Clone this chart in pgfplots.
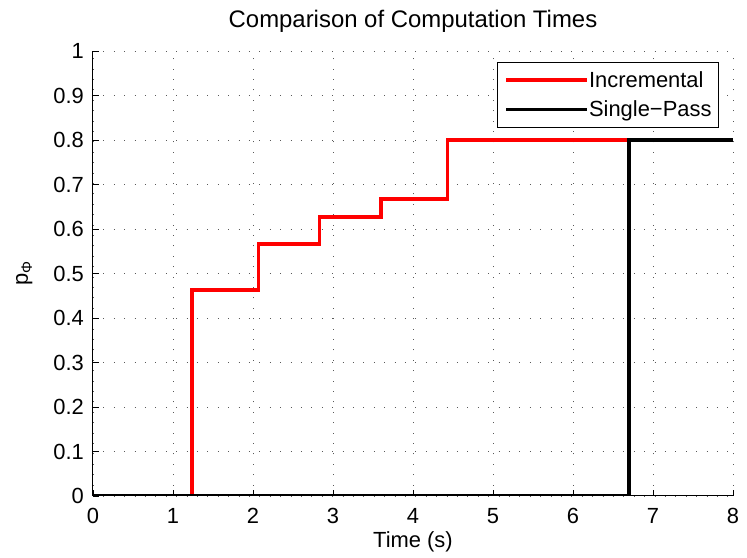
\documentclass[border=0pt]{standalone}
\usepackage{fontspec}
\setmainfont{Liberation Sans}
\usepackage{pgfplots}
\pgfplotsset{compat=1.18}
\begin{document}
\begin{tikzpicture}
\begin{axis}[
  scale only axis,
  width=640bp, height=445bp,
  xmin=0, xmax=8, ymin=0, ymax=1,
  axis x line*=bottom, axis y line*=left,
  axis line style={line width=1bp, black},
  tick align=inside,
  major tick length=6bp,
  tick style={line width=0.8bp, black},
  xtick={0,1,2,3,4,5,6,7,8},
  ytick={0,0.1,0.2,0.3,0.4,0.5,0.6,0.7,0.8,0.9,1},
  yticklabels={0,0.1,0.2,0.3,0.4,0.5,0.6,0.7,0.8,0.9,1},
  /pgf/number format/assume math mode=true,
  ticklabel style={font=\fontsize{22}{26}\selectfont},
  xticklabel style={anchor=base, inner sep=0pt, yshift=-28bp},
  yticklabel style={anchor=east, inner sep=0pt, xshift=-9bp},
  grid=major,
  major grid style={line width=0.7bp, black!65, dash pattern=on 1bp off 9.4bp},
  title={Comparison of Computation Times},
  title style={font=\fontsize{24}{28}\selectfont, at={(rel axis cs:0.5,1)}, anchor=base, inner sep=0pt, yshift=18bp},
  xlabel={Time (s)},
  xlabel style={font=\fontsize{22}{26}\selectfont, at={(rel axis cs:0.5,0)}, anchor=base, inner sep=0pt, yshift=-52bp},
  ylabel={p\raisebox{-4bp}{\fontsize{15}{18}\selectfont Φ}},
  ylabel style={font=\fontsize{22}{26}\selectfont, at={(rel axis cs:-0.1016,0.5)}, anchor=base, inner sep=0pt},
  legend style={
    at={(rel axis cs:0.978,0.975)}, anchor=north east,
    draw=black, line width=0.8bp, fill=white,
    font=\fontsize{22}{26}\selectfont,
    inner xsep=7bp, inner ysep=9bp,
    nodes={inner sep=0bp},
    row sep=12bp,
    column sep=0bp,
    cells={anchor=west},
  },
  legend image code/.code={\draw[#1] (0bp,0bp) -- (69bp,0bp); \path (-6bp,0bp) -- (75bp,0bp);},
  legend cell align=left,
]
\addplot[const plot, red, line width=3.5bp] coordinates {
  (0,0) (1.24,0.463) (2.07,0.566) (2.83,0.627) (3.60,0.667) (4.43,0.80) (6.70,0.80)
};
\addlegendentry{Incremental}
\addplot[const plot, black, line width=3.5bp] coordinates {
  (0,0) (6.70,0.80) (8,0.80)
};
\addlegendentry{Single−Pass}
\coordinate (bl) at (rel axis cs:-0.1453,-0.1393);
\coordinate (tr) at (rel axis cs:1.0219,1.1146);
\end{axis}
\path (bl) rectangle (tr);
\end{tikzpicture}
\end{document}
